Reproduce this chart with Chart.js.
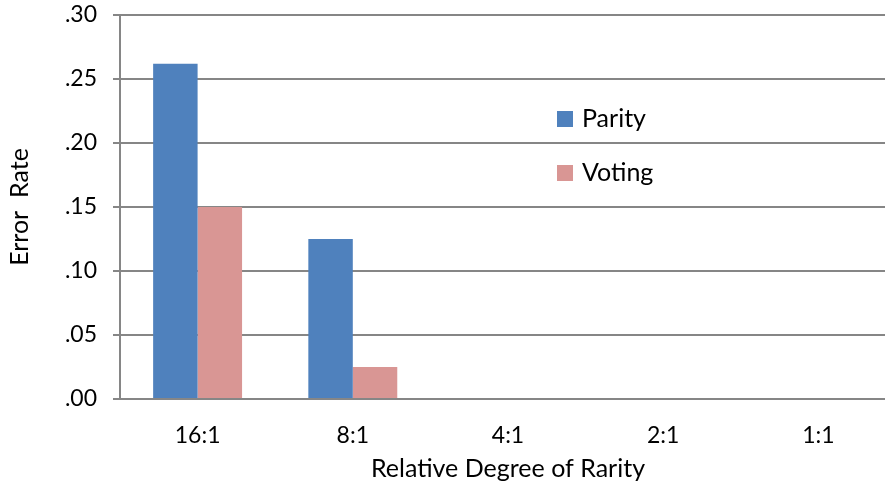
<!DOCTYPE html>
<html>
<head>
<meta charset="utf-8">
<script src="https://cdn.jsdelivr.net/npm/chart.js@4/dist/chart.umd.min.js"></script>
<style>
  html, body { margin: 0; padding: 0; background: #fff; overflow: hidden; }
  #wrap { position: relative; width: 896px; height: 490px; }
</style>
</head>
<body>
<div id="wrap"><canvas id="c"></canvas></div>
<script>
// Error rate by relative degree of rarity
const categories = ['16:1', '8:1', '4:1', '2:1', '1:1'];
const parity = [0.262, 0.125, 0, 0, 0];
const voting = [0.150, 0.025, 0, 0, 0];
const yTickLabels = ['.00', '.05', '.10', '.15', '.20', '.25', '.30'];

const FONT = 'Lato, "Open Sans", sans-serif';
const GRID = '#868686';

// Legend drawn inside the plot area, to the right of the bars
const innerLegend = {
  id: 'innerLegend',
  afterDatasetsDraw(chart) {
    const { ctx, chartArea } = chart;
    const x = chartArea.left + 437;
    const y0 = chartArea.top + 96;
    ctx.save();
    ctx.font = '25px ' + FONT;
    ctx.textBaseline = 'middle';
    ctx.textAlign = 'left';
    chart.data.datasets.forEach((ds, i) => {
      const y = y0 + i * 54;
      ctx.fillStyle = ds.backgroundColor;
      ctx.fillRect(x, y, 16, 16);
      ctx.fillStyle = '#000';
      ctx.fillText(ds.label, x + 25, y + 8);
    });
    ctx.restore();
  }
};

new Chart(document.getElementById('c'), {
  type: 'bar',
  data: {
    labels: categories,
    datasets: [
      { label: 'Parity', data: parity, backgroundColor: '#4F81BD' },
      { label: 'Voting', data: voting, backgroundColor: '#D99694' }
    ]
  },
  options: {
    responsive: true,
    maintainAspectRatio: false,
    animation: false,
    layout: { padding: { top: 15, left: 0, right: 0, bottom: 0 } },
    datasets: { bar: { categoryPercentage: 0.573, barPercentage: 1.0, borderWidth: 0 } },
    plugins: { legend: { display: false }, tooltip: { enabled: false } },
    scales: {
      x: {
        grid: { display: false },
        border: { display: true, color: GRID, width: 2 },
        ticks: { color: '#000', font: { family: FONT, size: 23 }, padding: 15 },
        title: {
          display: true, text: 'Relative Degree of Rarity', color: '#000',
          font: { family: FONT, size: 25 }, padding: { top: 0, bottom: 6 }
        },
        afterFit(scale) {
          scale.height = 91;
          scale.paddingLeft = 0;
          scale.paddingRight = 0;
        }
      },
      y: {
        min: 0, max: 0.30,
        ticks: {
          stepSize: 0.05, color: '#000', font: { family: FONT, size: 23 }, padding: 16,
          callback: (v, i) => yTickLabels[i]
        },
        grid: { color: GRID, lineWidth: 2, drawTicks: true, tickLength: 7 },
        border: { display: true, color: GRID, width: 2 },
        title: {
          display: true, text: 'Error  Rate', color: '#000',
          font: { family: FONT, size: 25 }, padding: { top: 5, bottom: 0 }
        },
        afterFit(scale) {
          scale.width = 120;
          scale.paddingTop = 0;
          scale.paddingBottom = 0;
        }
      }
    }
  },
  plugins: [innerLegend]
});
</script>
</body>
</html>
